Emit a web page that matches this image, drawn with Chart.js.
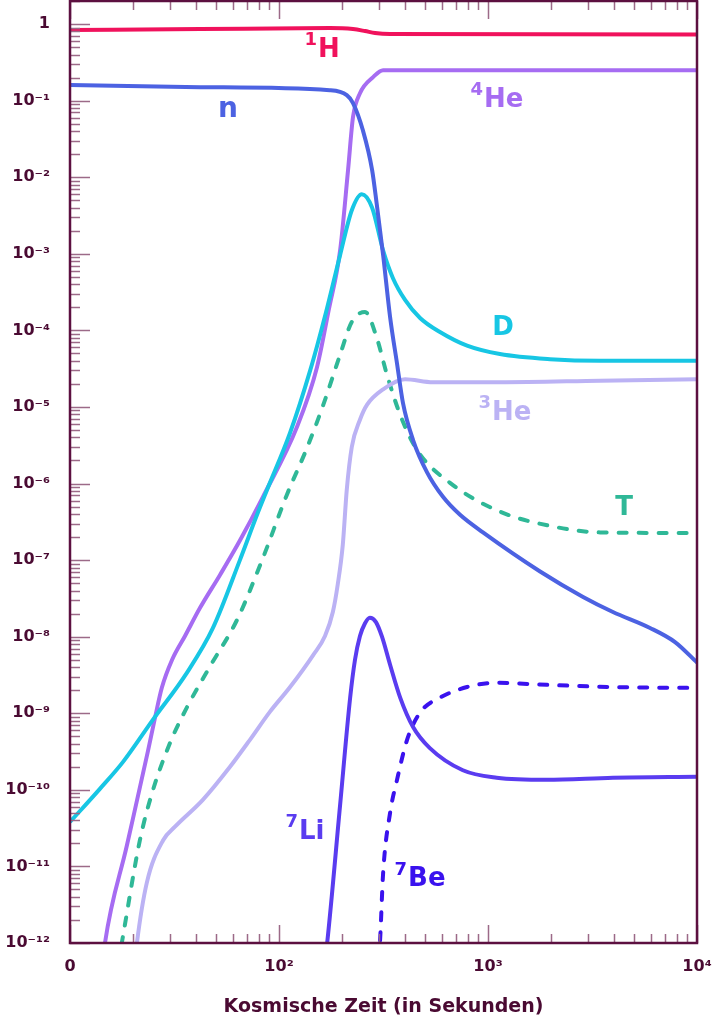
<!DOCTYPE html>
<html><head><meta charset="utf-8">
<script src="https://cdn.jsdelivr.net/npm/chart.js@4/dist/chart.umd.min.js"></script>
<style>html,body{margin:0;padding:0;background:#fff}#wrap{width:715px;height:1024px}</style>
</head><body><div id="wrap"><canvas id="c" width="715" height="1024"></canvas></div>
<script>
// time in seconds, abundance (mass fraction)
const h1Time   = [10, 42, 175, 226, 258, 288, 340, 10000];
const h1Value  = [0.835, 0.86, 0.887, 0.86, 0.81, 0.763, 0.74, 0.73];

const nTime    = [10, 42, 175, 211, 226, 252, 279, 294, 315, 340, 367, 392, 438, 511, 609, 735, 946, 1775, 2850, 3960, 5960, 7850, 10000];
const nValue   = [0.16, 0.15, 0.137, 0.118, 0.093, 0.041, 0.0124, 4.3e-3, 9.6e-4, 1.5e-4, 3.7e-5, 1.12e-5, 3.7e-6, 1.4e-6, 6.7e-7, 3.9e-7, 2.3e-7, 7.1e-8, 3.3e-8, 2.1e-8, 1.3e-8, 8.5e-9, 4.6e-9];

const he4Time  = [14.4, 14.7, 18.7, 23.6, 25.5, 27.5, 30.8, 35.5, 41.9, 52.2, 65.0, 83.8, 122, 152, 173, 196, 214, 226, 244, 282, 315, 10000];
const he4Value = [6e-13, 1.0e-12, 1.86e-11, 3.2e-10, 8.7e-10, 2.15e-9, 5.0e-9, 1.02e-8, 2.38e-8, 6.4e-8, 1.8e-7, 6.7e-7, 5.5e-6, 3.3e-5, 1.85e-4, 1.1e-3, 0.0124, 0.061, 0.125, 0.203, 0.25, 0.25];

const dTime    = [10, 13.9, 17.9, 24.9, 36.3, 48.3, 65.0, 78.5, 87.7, 113, 141, 168, 196, 223, 249, 279, 315, 351, 401, 473, 589, 794, 1140, 1980, 3440, 10000];
const dValue   = [3.8e-11, 1.03e-10, 2.3e-10, 8.2e-10, 3.4e-9, 1.3e-8, 1.0e-7, 3.9e-7, 8.3e-7, 4.6e-6, 3.0e-5, 1.74e-4, 9.6e-4, 3.7e-3, 6.0e-3, 4.0e-3, 1.1e-3, 4.8e-4, 2.5e-4, 1.45e-4, 9.5e-5, 6.3e-5, 4.9e-5, 4.2e-5, 4.0e-5, 4.0e-5];

const tTime    = [17.0, 17.9, 21.6, 24.7, 30.1, 36.3, 46.8, 63.0, 83.0, 109, 136, 163, 196, 223, 258, 294, 329, 380, 457, 658, 1140, 1980, 3440, 10000];
const tValue   = [5.2e-13, 1.2e-12, 2.2e-11, 9.1e-11, 4.1e-10, 1.2e-9, 4.1e-9, 1.66e-8, 1.0e-7, 7.1e-7, 2.9e-6, 1.07e-5, 4.8e-5, 1.29e-4, 1.74e-4, 7.9e-5, 2.6e-5, 7.9e-6, 2.75e-6, 1.02e-6, 4.3e-7, 2.8e-7, 2.3e-7, 2.26e-7];

const he3Time  = [20.5, 20.9, 23.3, 27.9, 31.8, 43.2, 58.3, 72.6, 90.6, 113, 146, 166, 181, 191, 202, 211, 223, 244, 264, 315, 401, 545, 1140, 3440, 10000];
const he3Value = [6e-13, 1.0e-12, 6.1e-12, 2.2e-11, 3.3e-11, 7.4e-11, 2.0e-10, 4.5e-10, 1.05e-9, 2.2e-9, 5.8e-9, 1.02e-8, 2.1e-8, 4.8e-8, 1.6e-7, 8.3e-7, 3.0e-6, 6.8e-6, 1.07e-5, 1.7e-5, 2.3e-5, 2.1e-5, 2.1e-5, 2.2e-5, 2.3e-5];

const li7Time  = [166, 170, 196, 219, 231, 244, 258, 272, 291, 311, 340, 380, 438, 527, 758, 1100, 1910, 3960, 10000];
const li7Value = [6e-13, 1.0e-12, 6.3e-11, 1.6e-9, 5.0e-9, 1.02e-8, 1.5e-8, 1.77e-8, 1.55e-8, 1.0e-8, 4.3e-9, 1.6e-9, 6.6e-10, 3.5e-10, 1.8e-10, 1.44e-10, 1.35e-10, 1.44e-10, 1.48e-10];

const be7Time  = [298, 304, 315, 340, 367, 410, 473, 589, 794, 1100, 1910, 3960, 10000];
const be7Value = [6e-13, 1.0e-12, 8.3e-12, 5.0e-11, 1.35e-10, 4.5e-10, 1.02e-9, 1.6e-9, 2.2e-9, 2.5e-9, 2.35e-9, 2.2e-9, 2.14e-9];

const xTickValues = [10, 100, 1000, 10000];
const xTickLabels = ['0', '10\u00B2', '10\u00B3', '10\u2074'];
const xTitle = 'Kosmische Zeit (in Sekunden)';

// series labels: superscript, base text, time, abundance
const labelSup   = ['1', '', '4', '', '3', '', '7', '7'];
const labelText  = ['H', 'n', 'He', 'D', 'He', 'T', 'Li', 'Be'];
const labelTime  = [161, 57, 1104, 1180, 1205, 4480, 133, 473];
const labelValue = [0.457, 0.075, 0.102, 1.07e-4, 8.3e-6, 4.8e-7, 2.8e-11, 6.7e-12];

const colors = {
  h1: '#f0125c', n: '#4c62e2', he4: '#a66cf2', d: '#17c6e4',
  t: '#2fb897', he3: '#bbb2f4', li7: '#5a3cf0', be7: '#3a12ee'
};
const labelColors = [colors.h1, colors.n, colors.he4, colors.d, colors.he3, colors.t, colors.li7, colors.be7];
const axisColor = '#5c1040';
const tickColor = '#9c6a88';
const textColor = '#4a0a32';
const FONT = '"DejaVu Sans", sans-serif';

function pts(ts, vs) { return ts.map((t, i) => ({x: t, y: vs[i]})); }
function ds(ts, vs, color, dashed) {
  return {
    data: pts(ts, vs), borderColor: color, borderWidth: 4, pointRadius: 0,
    cubicInterpolationMode: 'monotone', fill: false, clip: 0,
    borderDash: dashed ? [8, 12] : [], borderCapStyle: dashed ? 'round' : 'butt',
    borderJoinStyle: 'round'
  };
}

const supMap = {'-':'\u207B','0':'\u2070','1':'\u00B9','2':'\u00B2','3':'\u00B3','4':'\u2074','5':'\u2075','6':'\u2076','7':'\u2077','8':'\u2078','9':'\u2079'};
function yLabel(v) {
  const e = Math.round(Math.log10(v));
  if (Math.abs(v / Math.pow(10, e) - 1) > 1e-6) return '';
  if (e === 0) return '1';
  return '10' + String(e).split('').map(c => supMap[c]).join('');
}

const framePlugin = {
  id: 'frame',
  afterDatasetsDraw(chart) {
    const {ctx, chartArea: a, scales} = chart;
    const xs = scales.x, ys = scales.y;
    ctx.save();
    ctx.strokeStyle = tickColor; ctx.lineWidth = 1.5;
    for (let e = 1; e <= 4; e++) {
      for (let m = 1; m <= 9; m++) {
        const v = m * Math.pow(10, e);
        if (v > 10000) break;
        const px = Math.round(xs.getPixelForValue(v)) + 0.5;
        const len = m === 1 ? 18 : 9;
        ctx.beginPath();
        ctx.moveTo(px, a.bottom); ctx.lineTo(px, a.bottom - len);
        ctx.moveTo(px, a.top); ctx.lineTo(px, a.top + len);
        ctx.stroke();
      }
    }
    for (let e = -12; e <= 0; e++) {
      for (let m = 1; m <= 9; m++) {
        const v = m * Math.pow(10, e);
        if (v > ys.max) break;
        const py = Math.round(ys.getPixelForValue(v)) + 0.5;
        const len = m === 1 ? 20 : 10;
        ctx.beginPath();
        ctx.moveTo(a.left, py); ctx.lineTo(a.left + len, py);
        ctx.stroke();
      }
    }
    ctx.strokeStyle = axisColor; ctx.lineWidth = 2.5;
    ctx.strokeRect(a.left, a.top, a.right - a.left, a.bottom - a.top);
    ctx.textBaseline = 'middle';
    ctx.textAlign = 'left';
    for (let i = 0; i < labelText.length; i++) {
      const size = labelText[i] === 'n' ? 28 : 26;
      const supSize = Math.round(size * 0.68);
      const px = xs.getPixelForValue(labelTime[i]);
      const py = ys.getPixelForValue(labelValue[i]);
      ctx.font = 'bold ' + supSize + 'px ' + FONT;
      const sw = labelSup[i] ? ctx.measureText(labelSup[i]).width + 1 : 0;
      ctx.font = 'bold ' + size + 'px ' + FONT;
      const bw = ctx.measureText(labelText[i]).width;
      const x0 = px - (sw + bw) / 2;
      ctx.fillStyle = labelColors[i];
      if (labelSup[i]) {
        ctx.font = 'bold ' + supSize + 'px ' + FONT;
        ctx.fillText(labelSup[i], x0, py - size * 0.36);
      }
      ctx.font = 'bold ' + size + 'px ' + FONT;
      ctx.fillText(labelText[i], x0 + sw, py);
    }
    ctx.restore();
  }
};

new Chart(document.getElementById('c'), {
  type: 'line',
  data: {
    datasets: [
      ds(h1Time, h1Value, colors.h1),
      ds(nTime, nValue, colors.n),
      ds(he3Time, he3Value, colors.he3),
      ds(tTime, tValue, colors.t, true),
      ds(dTime, dValue, colors.d),
      ds(he4Time, he4Value, colors.he4),
      ds(li7Time, li7Value, colors.li7),
      ds(be7Time, be7Value, colors.be7, true)
    ]
  },
  options: {
    responsive: false, animation: false, devicePixelRatio: 1,
    layout: {padding: {top: 1, right: 18, left: 0, bottom: 0}},
    plugins: {legend: {display: false}, tooltip: {enabled: false}},
    scales: {
      x: {
        type: 'logarithmic', min: 10, max: 10000,
        grid: {display: false, drawTicks: false}, border: {display: false},
        afterBuildTicks: s => { s.ticks = xTickValues.map(v => ({value: v})); },
        afterFit: s => { s.height = 81; s.paddingLeft = 0; s.paddingRight = 0; s.paddingTop = 0; s.paddingBottom = 0; },
        ticks: {
          autoSkip: false, maxRotation: 0, padding: 14, color: textColor,
          font: {family: FONT, size: 16, weight: 'bold'},
          callback: v => { const i = xTickValues.indexOf(v); return i >= 0 ? xTickLabels[i] : ''; }
        },
        title: {display: true, text: xTitle, color: textColor,
          font: {family: FONT, size: 19, weight: 'bold'}, padding: {top: 0, bottom: 6}}
      },
      y: {
        type: 'logarithmic', min: 1e-12, max: 2,
        grid: {display: false, drawTicks: false}, border: {display: false},
        afterFit: s => { s.width = 70; s.paddingLeft = 0; s.paddingRight = 0; s.paddingTop = 0; s.paddingBottom = 0; },
        ticks: {
          autoSkip: false, padding: 20, color: textColor,
          font: {family: FONT, size: 16, weight: 'bold'},
          callback: v => yLabel(v)
        }
      }
    }
  },
  plugins: [framePlugin]
});
</script>
</body></html>
